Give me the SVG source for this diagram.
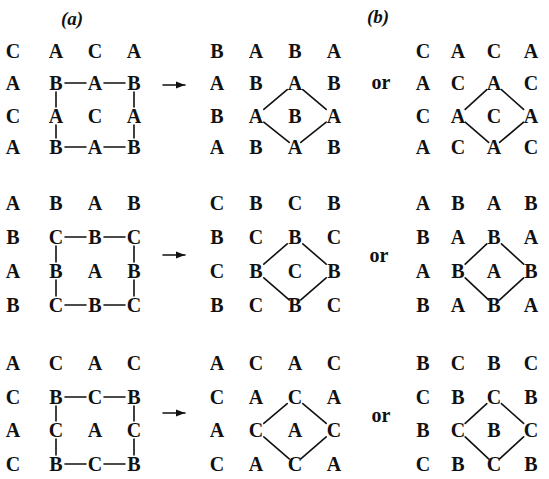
<svg xmlns="http://www.w3.org/2000/svg" width="549" height="479" viewBox="0 0 549 479">
<style>
.t{font-family:"Liberation Serif","Times New Roman",serif;font-size:20px;font-weight:bold;text-anchor:middle;fill:#111}
.lab{font-family:"Liberation Serif","Times New Roman",serif;font-size:19px;font-style:italic;font-weight:bold;text-anchor:middle;fill:#111}
.or{font-family:"Liberation Serif","Times New Roman",serif;font-size:20px;font-weight:bold;text-anchor:middle;fill:#111}
.ln{stroke:#111;stroke-width:1.6;fill:none;stroke-linecap:round}
</style>
<defs>
<marker id="ah" markerWidth="10" markerHeight="8" refX="9" refY="4" orient="auto" markerUnits="userSpaceOnUse">
<path d="M0,0.5 L9,4 L0,7.5 Z" fill="#111"/>
</marker>
</defs>
<rect width="549" height="479" fill="#fff"/>
<g id="labels">
<text class="lab" x="72" y="25">(a)</text>
<text class="lab" x="378" y="23">(b)</text>
</g>
<g id="or-words">
<text class="or" x="381" y="89">or</text>
<text class="or" x="379" y="262">or</text>
<text class="or" x="381" y="422">or</text>
</g>
<g id="connectors">
<line class="ln" x1="163" y1="85" x2="185" y2="85" marker-end="url(#ah)"/>
<line class="ln" x1="163" y1="255" x2="185" y2="255" marker-end="url(#ah)"/>
<line class="ln" x1="163" y1="413" x2="185" y2="413" marker-end="url(#ah)"/>
<!-- block1 square -->
<path class="ln" d="M65,83H86M104,83H125M65,147H86M104,147H125M56,92V107M56,125V138M134,92V107M134,125V138"/>
<!-- block2 square -->
<path class="ln" d="M65,237H86M104,237H125M65,305H86M104,305H125M56,246V262M56,280V296M134,246V262M134,280V296"/>
<!-- block3 square -->
<path class="ln" d="M65,397H86M104,397H125M65,464H86M104,464H125M56,406V421M56,439V455M134,406V421M134,439V455"/>
<!-- block1 diamonds -->
<path class="ln" d="M287.2,89.6L263.8,109.4M302.8,89.6L326.2,109.4M263.8,122.2L289.2,142.4M326.2,122.2L300.8,142.4"/>
<path class="ln" d="M486.8,89.6L465.2,109.4M501.4,89.6L523.6,109.4M465.2,122.2L488.6,142.4M523.6,122.2L499.6,142.4"/>
<!-- block2 diamonds -->
<path class="ln" d="M287.2,243.8L263.8,264.2M302.8,243.8L326.2,264.2M263.8,277.8L289.2,299.9M326.2,277.8L300.8,299.9"/>
<path class="ln" d="M486.8,243.8L465.2,264.2M501.4,243.8L523.6,264.2M465.2,277.8L488.6,299.9M523.6,277.8L499.6,299.9"/>
<!-- block3 diamonds -->
<path class="ln" d="M287.2,403.6L263.8,423.4M302.8,403.6L326.2,423.4M263.8,436.8L289.2,458.9M326.2,436.8L300.8,458.9"/>
<path class="ln" d="M486.8,403.6L465.2,423.4M501.4,403.6L523.6,423.4M465.2,436.8L488.6,458.9M523.6,436.8L499.6,458.9"/>
</g>
<g id="block1-a">
<text class="t" x="13" y="58">C</text><text class="t" x="56" y="58">A</text><text class="t" x="95" y="58">C</text><text class="t" x="134" y="58">A</text>
<text class="t" x="13" y="90">A</text><text class="t" x="56" y="90">B</text><text class="t" x="95" y="90">A</text><text class="t" x="134" y="90">B</text>
<text class="t" x="13" y="123">C</text><text class="t" x="56" y="123">A</text><text class="t" x="95" y="123">C</text><text class="t" x="134" y="123">A</text>
<text class="t" x="13" y="154">A</text><text class="t" x="56" y="154">B</text><text class="t" x="95" y="154">A</text><text class="t" x="134" y="154">B</text>
</g>
<g id="block1-b1">
<text class="t" x="217" y="58">B</text><text class="t" x="256" y="58">A</text><text class="t" x="295" y="58">B</text><text class="t" x="334" y="58">A</text>
<text class="t" x="217" y="90">A</text><text class="t" x="256" y="90">B</text><text class="t" x="295" y="90">A</text><text class="t" x="334" y="90">B</text>
<text class="t" x="217" y="123">B</text><text class="t" x="256" y="123">A</text><text class="t" x="295" y="123">B</text><text class="t" x="334" y="123">A</text>
<text class="t" x="217" y="154">A</text><text class="t" x="256" y="154">B</text><text class="t" x="295" y="154">A</text><text class="t" x="334" y="154">B</text>
</g>
<g id="block1-b2">
<text class="t" x="423" y="58">C</text><text class="t" x="458" y="58">A</text><text class="t" x="494" y="58">C</text><text class="t" x="531" y="58">A</text>
<text class="t" x="423" y="90">A</text><text class="t" x="458" y="90">C</text><text class="t" x="494" y="90">A</text><text class="t" x="531" y="90">C</text>
<text class="t" x="423" y="123">C</text><text class="t" x="458" y="123">A</text><text class="t" x="494" y="123">C</text><text class="t" x="531" y="123">A</text>
<text class="t" x="423" y="154">A</text><text class="t" x="458" y="154">C</text><text class="t" x="494" y="154">A</text><text class="t" x="531" y="154">C</text>
</g>
<g id="block2-a">
<text class="t" x="13" y="210">A</text><text class="t" x="56" y="210">B</text><text class="t" x="95" y="210">A</text><text class="t" x="134" y="210">B</text>
<text class="t" x="13" y="244">B</text><text class="t" x="56" y="244">C</text><text class="t" x="95" y="244">B</text><text class="t" x="134" y="244">C</text>
<text class="t" x="13" y="278">A</text><text class="t" x="56" y="278">B</text><text class="t" x="95" y="278">A</text><text class="t" x="134" y="278">B</text>
<text class="t" x="13" y="312">B</text><text class="t" x="56" y="312">C</text><text class="t" x="95" y="312">B</text><text class="t" x="134" y="312">C</text>
</g>
<g id="block2-b1">
<text class="t" x="217" y="210">C</text><text class="t" x="256" y="210">B</text><text class="t" x="295" y="210">C</text><text class="t" x="334" y="210">B</text>
<text class="t" x="217" y="244">B</text><text class="t" x="256" y="244">C</text><text class="t" x="295" y="244">B</text><text class="t" x="334" y="244">C</text>
<text class="t" x="217" y="278">C</text><text class="t" x="256" y="278">B</text><text class="t" x="295" y="278">C</text><text class="t" x="334" y="278">B</text>
<text class="t" x="217" y="312">B</text><text class="t" x="256" y="312">C</text><text class="t" x="295" y="312">B</text><text class="t" x="334" y="312">C</text>
</g>
<g id="block2-b2">
<text class="t" x="423" y="210">A</text><text class="t" x="458" y="210">B</text><text class="t" x="494" y="210">A</text><text class="t" x="531" y="210">B</text>
<text class="t" x="423" y="244">B</text><text class="t" x="458" y="244">A</text><text class="t" x="494" y="244">B</text><text class="t" x="531" y="244">A</text>
<text class="t" x="423" y="278">A</text><text class="t" x="458" y="278">B</text><text class="t" x="494" y="278">A</text><text class="t" x="531" y="278">B</text>
<text class="t" x="423" y="312">B</text><text class="t" x="458" y="312">A</text><text class="t" x="494" y="312">B</text><text class="t" x="531" y="312">A</text>
</g>
<g id="block3-a">
<text class="t" x="13" y="370">A</text><text class="t" x="56" y="370">C</text><text class="t" x="95" y="370">A</text><text class="t" x="134" y="370">C</text>
<text class="t" x="13" y="404">C</text><text class="t" x="56" y="404">B</text><text class="t" x="95" y="404">C</text><text class="t" x="134" y="404">B</text>
<text class="t" x="13" y="437">A</text><text class="t" x="56" y="437">C</text><text class="t" x="95" y="437">A</text><text class="t" x="134" y="437">C</text>
<text class="t" x="13" y="471">C</text><text class="t" x="56" y="471">B</text><text class="t" x="95" y="471">C</text><text class="t" x="134" y="471">B</text>
</g>
<g id="block3-b1">
<text class="t" x="217" y="370">A</text><text class="t" x="256" y="370">C</text><text class="t" x="295" y="370">A</text><text class="t" x="334" y="370">C</text>
<text class="t" x="217" y="404">C</text><text class="t" x="256" y="404">A</text><text class="t" x="295" y="404">C</text><text class="t" x="334" y="404">A</text>
<text class="t" x="217" y="437">A</text><text class="t" x="256" y="437">C</text><text class="t" x="295" y="437">A</text><text class="t" x="334" y="437">C</text>
<text class="t" x="217" y="471">C</text><text class="t" x="256" y="471">A</text><text class="t" x="295" y="471">C</text><text class="t" x="334" y="471">A</text>
</g>
<g id="block3-b2">
<text class="t" x="423" y="370">B</text><text class="t" x="458" y="370">C</text><text class="t" x="494" y="370">B</text><text class="t" x="531" y="370">C</text>
<text class="t" x="423" y="404">C</text><text class="t" x="458" y="404">B</text><text class="t" x="494" y="404">C</text><text class="t" x="531" y="404">B</text>
<text class="t" x="423" y="437">B</text><text class="t" x="458" y="437">C</text><text class="t" x="494" y="437">B</text><text class="t" x="531" y="437">C</text>
<text class="t" x="423" y="471">C</text><text class="t" x="458" y="471">B</text><text class="t" x="494" y="471">C</text><text class="t" x="531" y="471">B</text>
</g>
</svg>
